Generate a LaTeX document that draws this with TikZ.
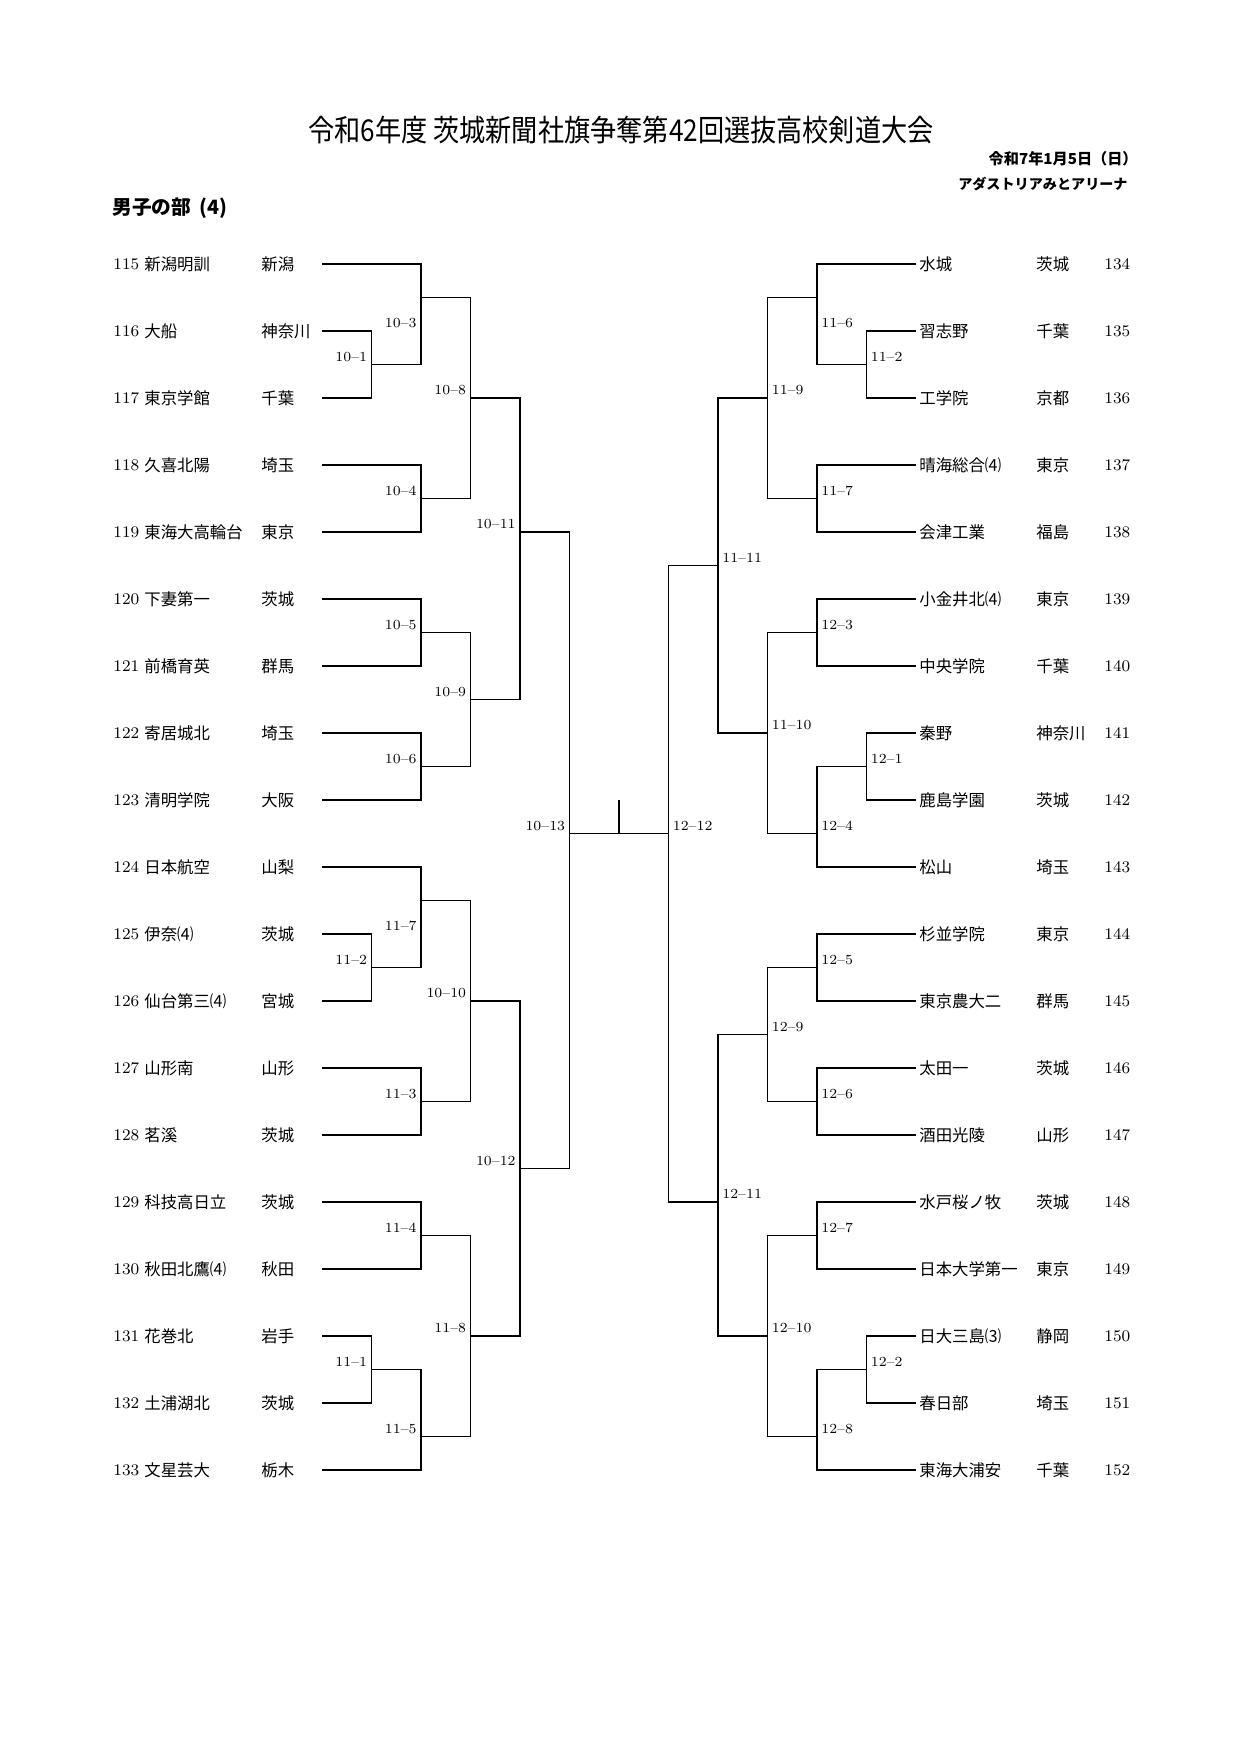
\documentclass[tikz,border=0pt]{standalone}
\usepackage{fontspec}
\newfontfamily\jp{Noto Sans CJK JP}
\usetikzlibrary{calc}

\tikzset{
  bracket/.style={line width=0.9pt, black},
  team/.style={font=\jp\fontsize{7.9}{9}\selectfont, anchor=west, inner sep=0pt},
  num/.style={font=\fontsize{7.8}{9}\selectfont, anchor=west, inner sep=0pt},
  lbl/.style={font=\fontsize{6.7}{8}\selectfont, inner sep=0pt}
}

\begin{document}
\begin{tikzpicture}[x=0.4819pt, y=-0.4819pt]
\path[use as bounding box, fill=white] (0,0) rectangle (1240,1753);

%the heading
\node[font=\jp\fontsize{14.5}{17}\selectfont, xscale=0.87, transform shape] (title) at (621,130) {令和6年度 茨城新聞社旗争奪第42回選抜高校剣道大会};
\node[font=\jp\bfseries\fontsize{7.3}{8}\selectfont, anchor=east, inner sep=0pt] (date) at (1138,159) {令和7年1月5日（日）};
\node[font=\jp\bfseries\fontsize{6.8}{8}\selectfont, anchor=east, inner sep=0pt] (venue) at (1128,184.5) {アダストリアみとアリーナ};
\node[font=\jp\bfseries\fontsize{9.5}{11}\selectfont, anchor=west, inner sep=0pt] (part) at (112,208) {男子の部\hspace{0.4em}(4)};

%the teams, left
\foreach \num/\school/\pref [count=\i from 0] in {115/新潟明訓/新潟, 116/大船/神奈川, 117/東京学館/千葉, 118/久喜北陽/埼玉, 119/東海大高輪台/東京, 120/下妻第一/茨城, 121/前橋育英/群馬, 122/寄居城北/埼玉, 123/清明学院/大阪, 124/日本航空/山梨, 125/伊奈⑷/茨城, 126/仙台第三⑷/宮城, 127/山形南/山形, 128/茗溪/茨城, 129/科技高日立/茨城, 130/秋田北鷹⑷/秋田, 131/花巻北/岩手, 132/土浦湖北/茨城, 133/文星芸大/栃木}{
  \node[num] (n\num) at (113,{264+67*\i}) {\num};
  \node[team] (s\num) at (144,{264+67*\i}) {\school};
  \node[team] (p\num) at (261,{264+67*\i}) {\pref};
  \coordinate (t\num) at (322,{264+67*\i});
}

%the teams, right
\foreach \num/\school/\pref [count=\i from 0] in {134/水城/茨城, 135/習志野/千葉, 136/工学院/京都, 137/晴海総合⑷/東京, 138/会津工業/福島, 139/小金井北⑷/東京, 140/中央学院/千葉, 141/秦野/神奈川, 142/鹿島学園/茨城, 143/松山/埼玉, 144/杉並学院/東京, 145/東京農大二/群馬, 146/太田一/茨城, 147/酒田光陵/山形, 148/水戸桜ノ牧/茨城, 149/日本大学第一/東京, 150/日大三島⑶/静岡, 151/春日部/埼玉, 152/東海大浦安/千葉}{
  \node[team] (s\num) at (919,{264+67*\i}) {\school};
  \node[team] (p\num) at (1036,{264+67*\i}) {\pref};
  \node[num] (n\num) at (1104,{264+67*\i}) {\num};
  \coordinate (t\num) at (916,{264+67*\i});
}

%the matches, left
\coordinate (l101) at (371.5,364.5);
\coordinate (l103) at (421,297.5);
\coordinate (l104) at (421,498.5);
\coordinate (l108) at (470.5,398);
\coordinate (l105) at (421,632.5);
\coordinate (l106) at (421,766.5);
\coordinate (l109) at (470.5,699.5);
\coordinate (l1011) at (520,532);
\coordinate (l112) at (371.5,967.5);
\coordinate (l117) at (421,900.5);
\coordinate (l113) at (421,1101.5);
\coordinate (l1010) at (470.5,1001);
\coordinate (l114) at (421,1235.5);
\coordinate (l111) at (371.5,1369.5);
\coordinate (l115) at (421,1436.5);
\coordinate (l118) at (470.5,1336);
\coordinate (l1012) at (520,1168.5);
\coordinate (l1013) at (569.5,833.5);

\draw[bracket] (t116) -| (l101) |- (t117);
\draw[bracket] (t115) -| (l103) |- (l101);
\draw[bracket] (t118) -| (l104) |- (t119);
\draw[bracket] (l103) -| (l108) |- (l104);
\draw[bracket] (t120) -| (l105) |- (t121);
\draw[bracket] (t122) -| (l106) |- (t123);
\draw[bracket] (l105) -| (l109) |- (l106);
\draw[bracket] (l108) -| (l1011) |- (l109);
\draw[bracket] (t125) -| (l112) |- (t126);
\draw[bracket] (t124) -| (l117) |- (l112);
\draw[bracket] (t127) -| (l113) |- (t128);
\draw[bracket] (l117) -| (l1010) |- (l113);
\draw[bracket] (t129) -| (l114) |- (t130);
\draw[bracket] (t131) -| (l111) |- (t132);
\draw[bracket] (l111) -| (l115) |- (t133);
\draw[bracket] (l114) -| (l118) |- (l115);
\draw[bracket] (l1010) -| (l1012) |- (l118);
\draw[bracket] (l1011) -| (l1013) |- (l1012);

\node[lbl, anchor=east] (l101t) at ($(l101)+(-4,-7.7)$) {10--1};
\node[lbl, anchor=east] (l103t) at ($(l103)+(-4,25.5)$) {10--3};
\node[lbl, anchor=east] (l104t) at ($(l104)+(-4,-7.7)$) {10--4};
\node[lbl, anchor=east] (l108t) at ($(l108)+(-4,-7.7)$) {10--8};
\node[lbl, anchor=east] (l105t) at ($(l105)+(-4,-7.7)$) {10--5};
\node[lbl, anchor=east] (l106t) at ($(l106)+(-4,-7.7)$) {10--6};
\node[lbl, anchor=east] (l109t) at ($(l109)+(-4,-7.7)$) {10--9};
\node[lbl, anchor=east] (l1011t) at ($(l1011)+(-4,-7.7)$) {10--11};
\node[lbl, anchor=east] (l112t) at ($(l112)+(-4,-7.7)$) {11--2};
\node[lbl, anchor=east] (l117t) at ($(l117)+(-4,25.5)$) {11--7};
\node[lbl, anchor=east] (l113t) at ($(l113)+(-4,-7.7)$) {11--3};
\node[lbl, anchor=east] (l1010t) at ($(l1010)+(-4,-7.7)$) {10--10};
\node[lbl, anchor=east] (l114t) at ($(l114)+(-4,-7.7)$) {11--4};
\node[lbl, anchor=east] (l111t) at ($(l111)+(-4,-7.7)$) {11--1};
\node[lbl, anchor=east] (l115t) at ($(l115)+(-4,-7.7)$) {11--5};
\node[lbl, anchor=east] (l118t) at ($(l118)+(-4,-7.7)$) {11--8};
\node[lbl, anchor=east] (l1012t) at ($(l1012)+(-4,-7.7)$) {10--12};
\node[lbl, anchor=east] (l1013t) at ($(l1013)+(-4,-7.7)$) {10--13};

%the matches, right
\coordinate (r112) at (866.5,364.5);
\coordinate (r116) at (817,297.5);
\coordinate (r117) at (817,498.5);
\coordinate (r119) at (767.5,398);
\coordinate (r123) at (817,632.5);
\coordinate (r121) at (866.5,766.5);
\coordinate (r124) at (817,833.5);
\coordinate (r1110) at (767.5,733);
\coordinate (r1111) at (718,565.5);
\coordinate (r125) at (817,967.5);
\coordinate (r126) at (817,1101.5);
\coordinate (r129) at (767.5,1034.5);
\coordinate (r127) at (817,1235.5);
\coordinate (r122) at (866.5,1369.5);
\coordinate (r128) at (817,1436.5);
\coordinate (r1210) at (767.5,1336);
\coordinate (r1211) at (718,1202);
\coordinate (r1212) at (668.5,833.5);

\draw[bracket] (t135) -| (r112) |- (t136);
\draw[bracket] (t134) -| (r116) |- (r112);
\draw[bracket] (t137) -| (r117) |- (t138);
\draw[bracket] (r116) -| (r119) |- (r117);
\draw[bracket] (t139) -| (r123) |- (t140);
\draw[bracket] (t141) -| (r121) |- (t142);
\draw[bracket] (r121) -| (r124) |- (t143);
\draw[bracket] (r123) -| (r1110) |- (r124);
\draw[bracket] (r119) -| (r1111) |- (r1110);
\draw[bracket] (t144) -| (r125) |- (t145);
\draw[bracket] (t146) -| (r126) |- (t147);
\draw[bracket] (r125) -| (r129) |- (r126);
\draw[bracket] (t148) -| (r127) |- (t149);
\draw[bracket] (t150) -| (r122) |- (t151);
\draw[bracket] (r122) -| (r128) |- (t152);
\draw[bracket] (r127) -| (r1210) |- (r128);
\draw[bracket] (r129) -| (r1211) |- (r1210);
\draw[bracket] (r1111) -| (r1212) |- (r1211);

\node[lbl, anchor=west] (r112t) at ($(r112)+(4,-7.7)$) {11--2};
\node[lbl, anchor=west] (r116t) at ($(r116)+(4,25.5)$) {11--6};
\node[lbl, anchor=west] (r117t) at ($(r117)+(4,-7.7)$) {11--7};
\node[lbl, anchor=west] (r119t) at ($(r119)+(4,-7.7)$) {11--9};
\node[lbl, anchor=west] (r123t) at ($(r123)+(4,-7.7)$) {12--3};
\node[lbl, anchor=west] (r121t) at ($(r121)+(4,-7.7)$) {12--1};
\node[lbl, anchor=west] (r124t) at ($(r124)+(4,-7.7)$) {12--4};
\node[lbl, anchor=west] (r1110t) at ($(r1110)+(4,-7.7)$) {11--10};
\node[lbl, anchor=west] (r1111t) at ($(r1111)+(4,-7.7)$) {11--11};
\node[lbl, anchor=west] (r125t) at ($(r125)+(4,-7.7)$) {12--5};
\node[lbl, anchor=west] (r126t) at ($(r126)+(4,-7.7)$) {12--6};
\node[lbl, anchor=west] (r129t) at ($(r129)+(4,-7.7)$) {12--9};
\node[lbl, anchor=west] (r127t) at ($(r127)+(4,-7.7)$) {12--7};
\node[lbl, anchor=west] (r122t) at ($(r122)+(4,-7.7)$) {12--2};
\node[lbl, anchor=west] (r128t) at ($(r128)+(4,-7.7)$) {12--8};
\node[lbl, anchor=west] (r1210t) at ($(r1210)+(4,-7.7)$) {12--10};
\node[lbl, anchor=west] (r1211t) at ($(r1211)+(4,-7.7)$) {12--11};
\node[lbl, anchor=west] (r1212t) at ($(r1212)+(4,-7.7)$) {12--12};

%the final
\coordinate (ftop) at (619,800);
\coordinate (fmid) at (619,833.5);
\draw[bracket] (l1013) -- (r1212);
\draw[bracket] (ftop) -- (fmid);
\end{tikzpicture}
\end{document}
